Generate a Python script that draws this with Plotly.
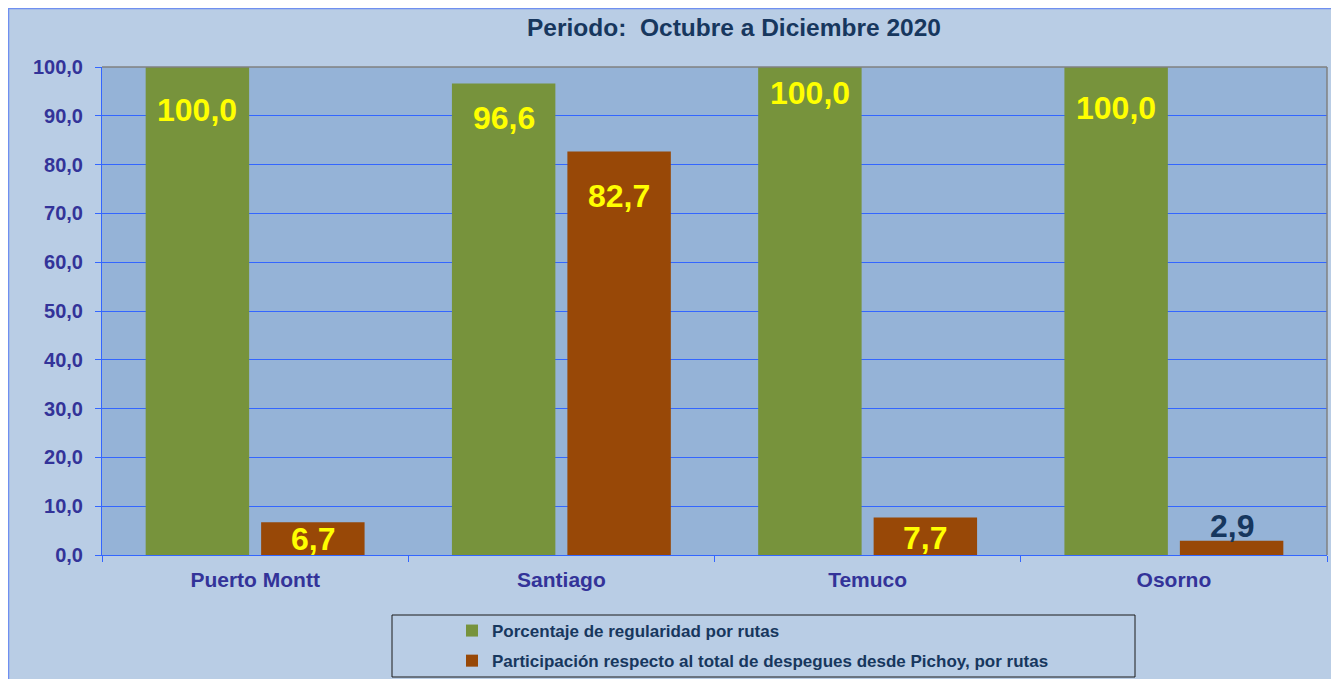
import plotly.graph_objects as go

categories = ["Puerto Montt", "Santiago", "Temuco", "Osorno"]
regularidad = [100.0, 96.6, 100.0, 100.0]
participacion = [6.7, 82.7, 7.7, 2.9]
y_ticks = [0, 10, 20, 30, 40, 50, 60, 70, 80, 90, 100]
y_tick_labels = ["0,0", "10,0", "20,0", "30,0", "40,0", "50,0", "60,0", "70,0", "80,0", "90,0", "100,0"]
series_names = ["Porcentaje de regularidad por rutas",
                "Participación respecto al total de despegues desde Pichoy, por rutas"]

# label vertical offsets (px) from bar top
reg_label_shift = [-43, -34, -26, -41]
par_label_shift = [-17, -45, -21, 15]
par_label_colors = ["#ffff00", "#ffff00", "#ffff00", "#17375e"]

GREEN = "#77933c"
BROWN = "#984807"
FONT = "Arial, Liberation Sans, sans-serif"

fig = go.Figure()
fig.add_trace(go.Bar(x=categories, y=regularidad, name=series_names[0],
                     marker=dict(color=GREEN, line=dict(width=0)), legendgroup="a"))
fig.add_trace(go.Bar(x=categories, y=participacion, name=series_names[1],
                     marker=dict(color=BROWN, line=dict(width=0)), legendgroup="b"))

fmt = lambda v: f"{v:.1f}".replace(".", ",")
annotations = []
for i, c in enumerate(categories):
    annotations.append(dict(x=c, y=regularidad[i], xref="x", yref="y", text=fmt(regularidad[i]),
                            showarrow=False, xshift=-57.7, yshift=reg_label_shift[i], yanchor="middle",
                            font=dict(family=FONT, size=32, color="#ffff00", weight="bold")))
    annotations.append(dict(x=c, y=participacion[i], xref="x", yref="y", text=fmt(participacion[i]),
                            showarrow=False, xshift=57.7, yshift=par_label_shift[i], yanchor="middle",
                            font=dict(family=FONT, size=32, color=par_label_colors[i], weight="bold")))

W, H = 1339, 679
L, R, T, B = 94, 20, 59, 132
pw, ph = W - L - R, H - T - B
px = lambda x: (x - L) / pw
py = lambda y: (H - B - y) / ph

shapes = [
    dict(type="line", xref="paper", yref="paper", x0=px(0), x1=px(W), y0=py(0.5), y1=py(0.5),
         line=dict(color="#6f8ff0", width=1.5)),
    dict(type="line", xref="paper", yref="paper", x0=px(0.5), x1=px(0.5), y0=py(0), y1=py(H),
         line=dict(color="#6f8ff0", width=1.5)),
    dict(type="line", xref="paper", yref="paper", x0=0, x1=1, y0=1, y1=1,
         line=dict(color="#808080", width=1.5)),
    dict(type="line", xref="paper", yref="paper", x0=1, x1=1, y0=0, y1=1,
         line=dict(color="#808080", width=1.5)),
    dict(type="rect", xref="paper", yref="paper", x0=px(384), x1=px(1127), y0=py(607), y1=py(669),
         fillcolor="rgba(0,0,0,0)", line=dict(color="#1a1a1a", width=1)),
]

fig.update_layout(
    width=W, height=H,
    margin=dict(l=L, r=R, t=T, b=B, pad=0, autoexpand=False),
    paper_bgcolor="#b9cde5",
    plot_bgcolor="#95b3d7",
    barmode="group", bargap=0.246, bargroupgap=0.104,
    title=dict(text="Periodo:&nbsp; Octubre a Diciembre 2020", x=px(726), xref="paper", xanchor="center",
               y=1 - 19 / H, yref="container", yanchor="middle",
               font=dict(family=FONT, size=24.5, color="#17375e", weight="bold")),
    xaxis=dict(type="category", showgrid=False, showline=True, linecolor="#3366ff", linewidth=1,
               ticks="outside", tickson="boundaries", ticklen=6, tickcolor="#3366ff",
               tickfont=dict(family=FONT, size=21, color="#333399", weight="bold"),
               ticklabelstandoff=6),
    yaxis=dict(range=[0, 100], tickmode="array", tickvals=y_ticks, ticktext=y_tick_labels,
               showgrid=True, gridcolor="#3366ff", gridwidth=1, zeroline=False,
               showline=True, linecolor="#3366ff", linewidth=1,
               ticks="outside", ticklen=6, tickcolor="#3366ff",
               tickfont=dict(family=FONT, size=20, color="#333399", weight="bold"),
               ticklabelstandoff=8),
    legend=dict(x=px(444), y=py(605), xanchor="left", yanchor="top", orientation="v",
                bgcolor="rgba(0,0,0,0)", borderwidth=0, tracegroupgap=5,
                font=dict(family=FONT, size=17, color="#17375e", weight="bold")),
    annotations=annotations,
    shapes=shapes,
    showlegend=True,
)

fig.write_html("out.html")
